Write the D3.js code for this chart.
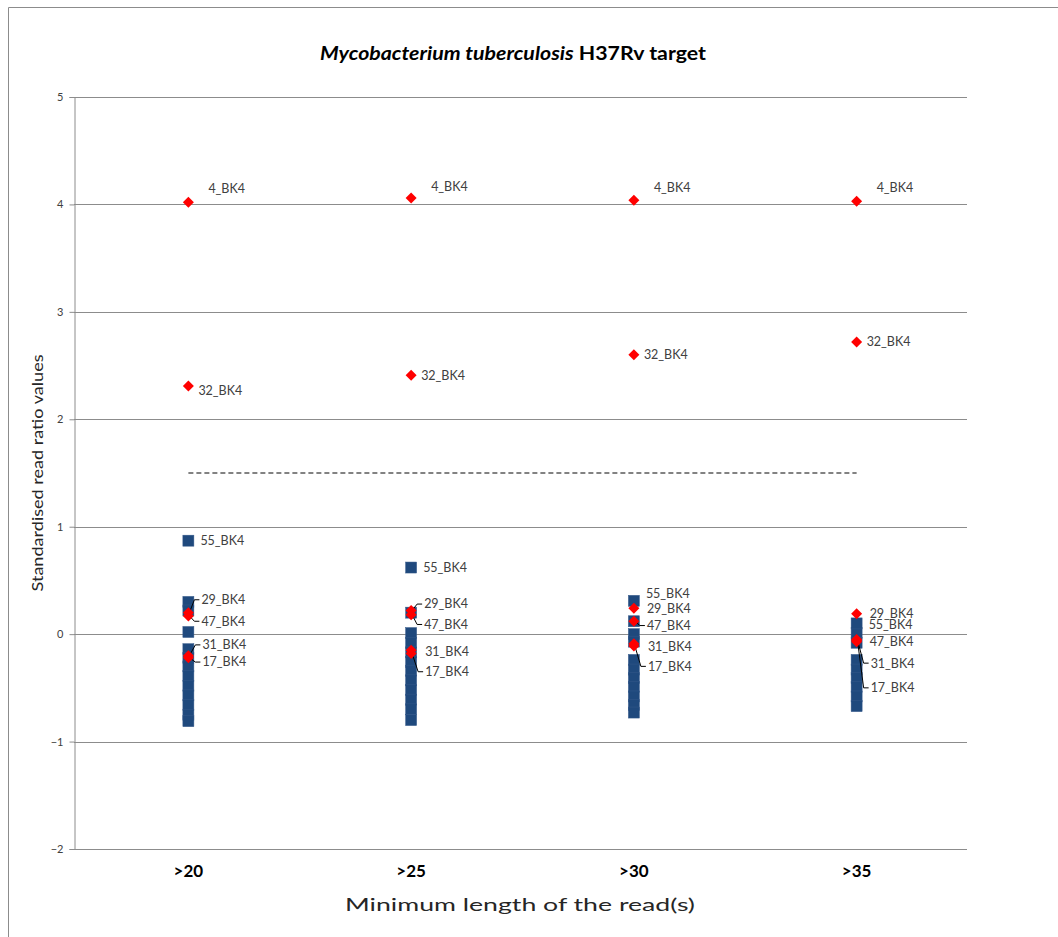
<!DOCTYPE html>
<html lang="en">
<head>
  <meta charset="UTF-8">
  <title>Mycobacterium tuberculosis H37Rv target</title>
  <script src="https://cdn.jsdelivr.net/npm/d3@7"></script>
  <style>
    body { margin: 0; background: #fff; }
    text { font-family: Lato, "Open Sans", sans-serif; }
    .grid line { stroke: #8c8c8c; stroke-width: 1; }
    .lbl { font-size: 12.5px; fill: #404040; }
  </style>
</head>
<body>
  <svg id="chart" width="1058" height="937"></svg>

  <script>
    // ---- data ----
    var categories = [">20", ">25", ">30", ">35"];
    var yTicks = [-2, -1, 0, 1, 2, 3, 4, 5];

    // labelled samples (red diamonds)
    var s4_BK4  = [4.02, 4.06, 4.04, 4.03];
    var s32_BK4 = [2.31, 2.41, 2.60, 2.72];
    var s29_BK4 = [0.20, 0.22, 0.24, 0.19];
    var s47_BK4 = [0.17, 0.18, 0.12, -0.05];
    var s31_BK4 = [-0.20, -0.15, -0.09, -0.06];
    var s17_BK4 = [-0.22, -0.18, -0.11, -0.07];

    // labelled sample on the blue series
    var s55_BK4 = [0.87, 0.62, 0.31, 0.10];

    // remaining (unlabelled) samples, blue squares
    var others20 = [0.30, 0.22, 0.02, -0.14, -0.22, -0.30, -0.39, -0.48, -0.57, -0.66, -0.75, -0.81];
    var others25 = [0.20, 0.01, -0.08, -0.17, -0.26, -0.34, -0.43, -0.52, -0.61, -0.70, -0.80];
    var others30 = [0.12, 0.00, -0.07, -0.24, -0.33, -0.41, -0.49, -0.58, -0.66, -0.73];
    var others35 = [0.01, -0.08, -0.24, -0.33, -0.41, -0.49, -0.58, -0.67];

    var cutoff = [1.5, 1.5, 1.5, 1.5];

    // where the data labels were dragged to (value units)
    var labelAt = {
      "4_BK4":  [4.15, 4.17, 4.16, 4.16],
      "32_BK4": [2.27, 2.41, 2.60, 2.72],
      "55_BK4": [0.87, 0.62, 0.38, 0.09],
      "29_BK4": [0.32, 0.28, 0.24, 0.19],
      "47_BK4": [0.12, 0.09, 0.08, -0.07],
      "31_BK4": [-0.10, -0.16, -0.12, -0.27],
      "17_BK4": [-0.26, -0.35, -0.30, -0.50]
    };
    var labelDx = { "4_BK4": 20, "32_BK4": 10, "55_BK4": 12, "29_BK4": 13, "47_BK4": 13, "31_BK4": 14, "17_BK4": 14 };
    var withLeader = ["29_BK4", "47_BK4", "31_BK4", "17_BK4"];

    var redSeries = [
      { name: "4_BK4", values: s4_BK4 },
      { name: "32_BK4", values: s32_BK4 },
      { name: "29_BK4", values: s29_BK4 },
      { name: "47_BK4", values: s47_BK4 },
      { name: "31_BK4", values: s31_BK4 },
      { name: "17_BK4", values: s17_BK4 }
    ];
    var othersByCat = [others20, others25, others30, others35];

    // ---- drawing ----
    var svg = d3.select("#chart");
    var plotL = 74, plotR = 967, plotT = 97, plotB = 849;

    var x = d3.scaleBand().domain(categories).range([77, 968]);
    var y = d3.scaleLinear().domain([-2, 5]).range([plotB, plotT]);
    var cx = function (c) { return x(c) + x.bandwidth() / 2; };

    // outer chart border (only top/left are visible)
    svg.append("path")
      .attr("d", "M8.5,937 V7.5 H1058")
      .attr("fill", "none").attr("stroke", "#8c8c8c");

    // title
    var title = svg.append("text")
      .attr("x", 513).attr("y", 60)
      .attr("text-anchor", "middle")
      .style("font-size", "18px").style("font-weight", "bold").style("fill", "#000")
      .attr("textLength", 386).attr("lengthAdjust", "spacingAndGlyphs");
    title.append("tspan").style("font-style", "italic").text("Mycobacterium tuberculosis");
    title.append("tspan").text(" H37Rv target");

    // gridlines
    svg.append("g").attr("class", "grid")
      .selectAll("line").data(yTicks).enter().append("line")
      .attr("x1", plotL).attr("x2", plotR)
      .attr("y1", function (d) { return Math.round(y(d)) + 0.5; })
      .attr("y2", function (d) { return Math.round(y(d)) + 0.5; });

    // y axis
    var yAxis = svg.append("g")
      .attr("transform", "translate(" + (plotL + 0.5) + ",0)")
      .call(d3.axisLeft(y).tickValues(yTicks).tickSize(5).tickPadding(6).tickFormat(d3.format("d")));
    yAxis.select(".domain").attr("stroke", "#8c8c8c");
    yAxis.selectAll(".tick line").attr("stroke", "#8c8c8c");
    yAxis.selectAll(".tick text").style("font-size", "11px").style("fill", "#404040")
      .style("font-family", "Lato, sans-serif");

    // x tick labels
    svg.append("g").selectAll("text").data(categories).enter().append("text")
      .attr("x", cx).attr("y", 877)
      .attr("text-anchor", "middle")
      .style("font-size", "17px").style("font-weight", "bold").style("fill", "#000")
      .text(function (d) { return d; });

    // axis titles
    svg.append("text")
      .attr("x", 520).attr("y", 911)
      .attr("text-anchor", "middle")
      .style("font-size", "17.5px").style("fill", "#262626")
      .attr("textLength", 350).attr("lengthAdjust", "spacingAndGlyphs")
      .text("Minimum length of the read(s)");

    svg.append("text")
      .attr("transform", "translate(43,473) rotate(-90)")
      .attr("text-anchor", "middle")
      .style("font-size", "15px").style("fill", "#262626")
      .attr("textLength", 237).attr("lengthAdjust", "spacingAndGlyphs")
      .text("Standardised read ratio values");

    // dashed cutoff line
    var line = d3.line()
      .x(function (d, i) { return cx(categories[i]); })
      .y(function (d) { return y(d); });
    svg.append("path")
      .datum(cutoff)
      .attr("d", line)
      .attr("fill", "none")
      .attr("stroke", "#5a5a5a")
      .attr("stroke-width", 1.5)
      .attr("stroke-dasharray", "5,3");

    // blue squares: unlabelled samples then 55_BK4
    var sq = 11;
    var blue = [];
    othersByCat.forEach(function (vals, i) {
      vals.forEach(function (v) { blue.push({ c: categories[i], v: v }); });
    });
    s55_BK4.forEach(function (v, i) { blue.push({ c: categories[i], v: v }); });

    svg.append("g").selectAll("rect").data(blue).enter().append("rect")
      .attr("x", function (d) { return cx(d.c) - sq / 2; })
      .attr("y", function (d) { return y(d.v) - sq / 2; })
      .attr("width", sq).attr("height", sq)
      .attr("fill", "#1F497D")
      .attr("stroke", "#35598a").attr("stroke-width", 0.5);

    // label records
    var labels = [];
    redSeries.concat([{ name: "55_BK4", values: s55_BK4 }]).forEach(function (s) {
      s.values.forEach(function (v, i) {
        labels.push({ name: s.name, c: categories[i], v: v, lv: labelAt[s.name][i] });
      });
    });

    // leader lines
    svg.append("g").selectAll("polyline")
      .data(labels.filter(function (d) {
        return withLeader.indexOf(d.name) >= 0 && Math.abs(y(d.lv) - y(d.v)) > 4;
      }))
      .enter().append("polyline")
      .attr("points", function (d) {
        var px = cx(d.c), py = y(d.v);
        var lx = px + labelDx[d.name], ly = y(d.lv);
        return [[px + 1, py], [lx - 7, ly], [lx - 2, ly]].map(function (p) { return p.join(","); }).join(" ");
      })
      .attr("fill", "none").attr("stroke", "#000").attr("stroke-width", 1);

    // red diamonds
    var dm = 5.5;
    var red = [];
    redSeries.forEach(function (s) {
      s.values.forEach(function (v, i) { red.push({ c: categories[i], v: v }); });
    });
    svg.append("g").selectAll("path").data(red).enter().append("path")
      .attr("d", function (d) {
        var px = cx(d.c), py = y(d.v);
        return "M" + px + "," + (py - dm) + "L" + (px + dm) + "," + py + "L" + px + "," + (py + dm) + "L" + (px - dm) + "," + py + "Z";
      })
      .attr("fill", "#FF0000");

    // data labels
    svg.append("g").selectAll("text").data(labels).enter().append("text")
      .attr("class", "lbl")
      .attr("x", function (d) { return cx(d.c) + labelDx[d.name]; })
      .attr("y", function (d) { return y(d.lv); })
      .attr("dy", "0.35em")
      .text(function (d) { return d.name; });
  </script>
</body>
</html>
